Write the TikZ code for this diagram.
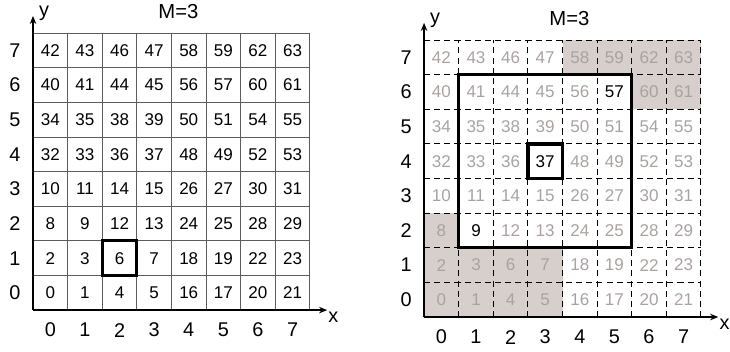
\documentclass[tikz,border=0pt]{standalone}
\usepackage{fontspec}
\setmainfont{Liberation Sans}
\usetikzlibrary{arrows.meta}

\definecolor{gridgray}{HTML}{5C5C5C}
\definecolor{cellshade}{HTML}{D6CFCC}
\definecolor{numgray}{HTML}{ABA1A1}

\tikzset{
  num/.style={font=\fontsize{8.4}{10}\selectfont, inner sep=0pt},
  axlab/.style={font=\fontsize{9.8}{12}\selectfont, inner sep=0pt},
  title/.style={font=\fontsize{10}{12}\selectfont, inner sep=0pt},
  axis/.style={-{Stealth[length=4pt,width=3.2pt]}, line width=0.6pt},
  dashgrid/.style={line width=0.5pt, dash pattern=on 3pt off 2pt},
  thickbox/.style={line width=1.6pt},
}

\begin{document}
\begin{tikzpicture}[x=0.6cm, y=0.6cm]
    \useasboundingbox (-0.954,-1.185) rectangle (20.14,8.96);

    % Left grid
    \draw[gridgray, line width=0.5pt, step=1] (0,0) grid (8,8);
    \coordinate (lo) at (0,0);
    \coordinate (ly) at (0,8.5);
    \coordinate (lx) at (8.5,0);
    \draw[axis] (lo) -- (ly);
    \draw[axis] (lo) -- (lx);
    \node[axlab] (lylab) at (0.32,8.58) {y};
    \node[axlab] (lxlab) at (8.68,-0.22) {x};
    \node[title] (lm) at (4.2,8.62) {M=3};
    \foreach \k in {0,...,7} {
        \node[axlab] (lrow\k) at (-0.52,\k+0.5) {\k};
        \node[axlab] (lcol\k) at (\k+0.5,-0.58) {\k};
    }
    \foreach \y/\row in {7/{42,43,46,47,58,59,62,63}, 6/{40,41,44,45,56,57,60,61},
                         5/{34,35,38,39,50,51,54,55}, 4/{32,33,36,37,48,49,52,53},
                         3/{10,11,14,15,26,27,30,31}, 2/{8,9,12,13,24,25,28,29},
                         1/{2,3,6,7,18,19,22,23},     0/{0,1,4,5,16,17,20,21}} {
        \foreach \n [count=\i from 0] in \row {
            \node[num] (l\i\y) at (\i+0.5,\y+0.5) {\n};
        }
    }
    \draw[thickbox] (2,1) rectangle (3,2);

    % Right grid
    \begin{scope}[shift={(11.3,-0.2)}]
        \fill[cellshade] (4,7) rectangle (8,8);
        \fill[cellshade] (6,6) rectangle (8,7);
        \fill[cellshade] (0,0) rectangle (4,2);
        \fill[cellshade] (0,2) rectangle (1,3);
        \draw[dashgrid, step=1] (0,0) grid (8,8);
        \coordinate (ro) at (0,0);
        \coordinate (ry) at (0,8.5);
        \coordinate (rx) at (8.5,0);
        \draw[axis] (ro) -- (ry);
        \draw[axis] (ro) -- (rx);
        \node[axlab] (rylab) at (0.32,8.58) {y};
        \node[axlab] (rxlab) at (8.68,-0.22) {x};
        \node[title] (rm) at (4.2,8.62) {M=3};
        \foreach \k in {0,...,7} {
            \node[axlab] (rrow\k) at (-0.52,\k+0.5) {\k};
            \node[axlab] (rcol\k) at (\k+0.5,-0.58) {\k};
        }
        \foreach \y/\row in {7/{42,43,46,47,58,59,62,63}, 6/{40,41,44,45,56,57,60,61},
                             5/{34,35,38,39,50,51,54,55}, 4/{32,33,36,37,48,49,52,53},
                             3/{10,11,14,15,26,27,30,31}, 2/{8,9,12,13,24,25,28,29},
                             1/{2,3,6,7,18,19,22,23},     0/{0,1,4,5,16,17,20,21}} {
            \foreach \n [count=\i from 0] in \row {
                \def\tc{numgray}
                \ifnum\n=9 \def\tc{black}\fi
                \ifnum\n=37 \def\tc{black}\fi
                \ifnum\n=57 \def\tc{black}\fi
                \node[num, text=\tc] (r\i\y) at (\i+0.5,\y+0.5) {\n};
            }
        }
        \draw[thickbox] (1,2) rectangle (6,7);
        \draw[thickbox] (3,4) rectangle (4,5);
    \end{scope}
\end{tikzpicture}
\end{document}
